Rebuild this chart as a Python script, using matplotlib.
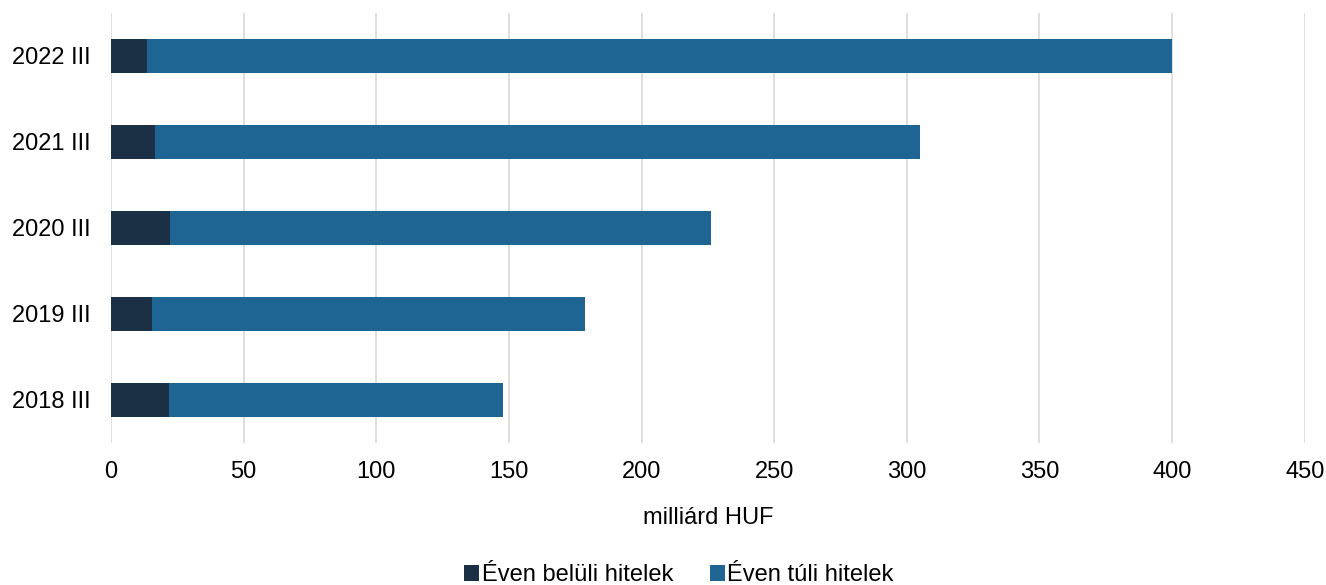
import matplotlib.pyplot as plt

plt.rcParams['font.family'] = ['Liberation Sans', 'DejaVu Sans']

periods = ["2018 III", "2019 III", "2020 III", "2021 III", "2022 III"]
short_term = [21.9, 15.6, 22.4, 16.7, 13.4]
total = [147.7, 178.8, 226.3, 305.1, 400.0]
long_term = [t - s for t, s in zip(total, short_term)]

dark = "#1b3045"
blue = "#1f6594"
fs = 17

fig = plt.figure(figsize=(13.26, 5.85), dpi=100)
ax = fig.add_axes([0.0837, 0.243, 0.9003, 0.735])

y = range(len(periods))
ax.barh(y, short_term, height=0.4, color=dark, label="Éven belüli hitelek", zorder=3)
ax.barh(y, long_term, left=short_term, height=0.4, color=blue, label="Éven túli hitelek", zorder=3)

ax.set_xlim(0, 450)
ax.set_ylim(-0.5, 4.5)
ax.set_xticks(range(0, 451, 50))
ax.set_yticks(list(y))
ax.set_yticklabels(periods)
ax.tick_params(axis='both', length=0, labelsize=fs, colors='#000000')
ax.tick_params(axis='x', pad=13)
ax.tick_params(axis='y', pad=15)
ax.grid(axis='x', color='#d9d9d9', linewidth=1.2, zorder=0)
for s in ax.spines.values():
    s.set_visible(False)

ax.set_xlabel("milliárd HUF", fontsize=fs, labelpad=17)

fig.legend(loc='lower center', bbox_to_anchor=(0.512, -0.038), ncol=2, frameon=False,
           fontsize=fs, handlelength=0.65, handleheight=0.65, handletextpad=0.1,
           columnspacing=1.55)

fig.savefig("out.png", dpi=100)
